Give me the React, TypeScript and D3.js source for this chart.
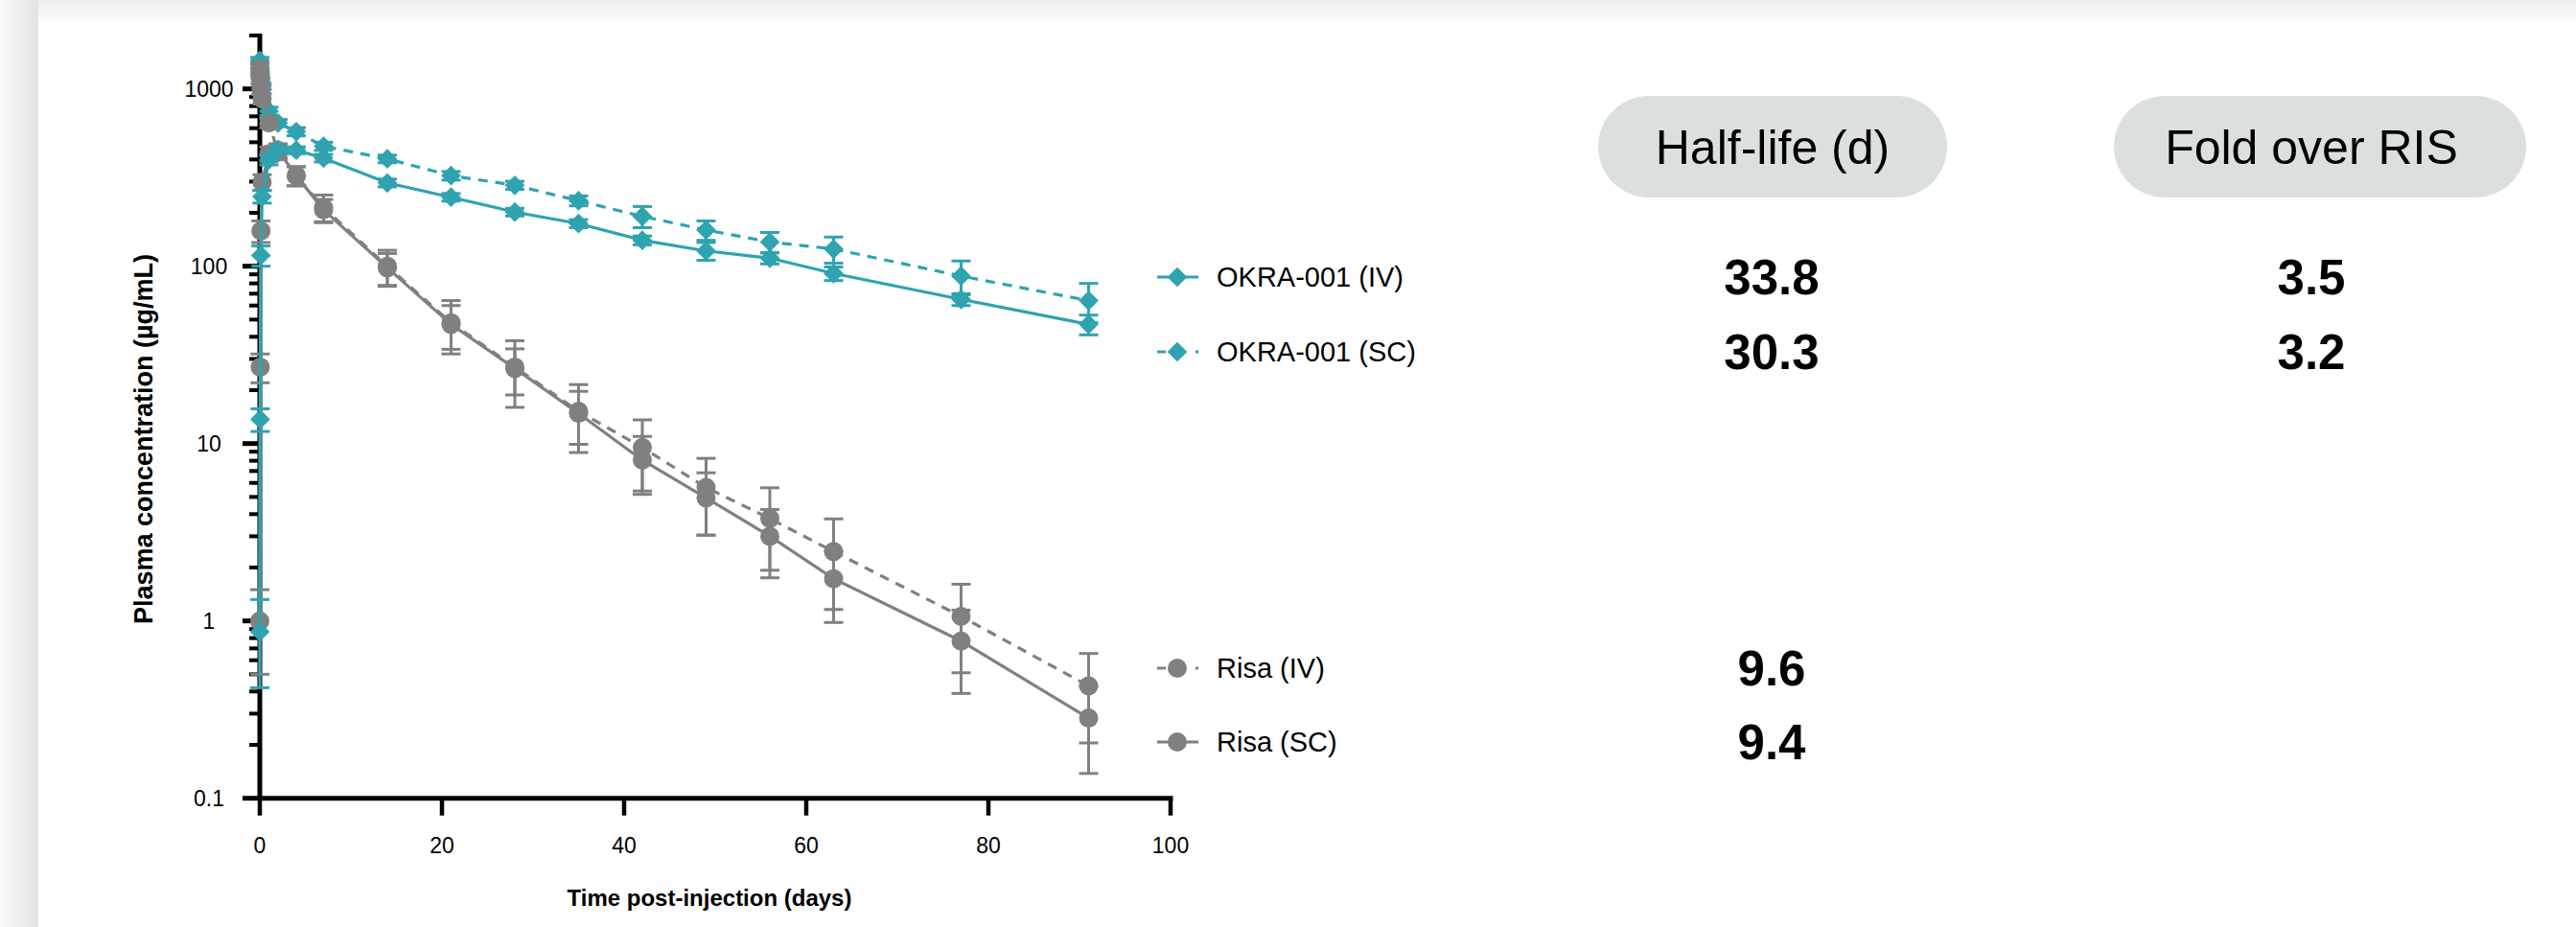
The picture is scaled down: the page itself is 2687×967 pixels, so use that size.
import { useRef, useEffect } from 'react'
import * as d3 from 'd3'

const W = 2687
const H = 967
const TEAL = '#2fa3b0'
const GRAY = '#808080'
const FONT = "'Liberation Sans', Arial, sans-serif"

// sampling days (the early points are hours after dosing)
const DAYS = [0, 0.04, 0.125, 0.25, 1, 2, 4, 7, 14, 21, 28, 35, 42, 49, 56, 63, 77, 91]

// plasma concentration, µg/mL (mean and SD)
const OKRA_IV = [0.87, 13.7, 115, 247, 398, 455, 451, 407, 295, 245, 202, 174, 140, 122, 111, 91, 65, 47]
const OKRA_IV_SD = [0.45, 2, 15, 20, 25, 20, 20, 20, 15, 12, 10, 9, 8, 14, 8, 8, 5, 6]
const OKRA_SC = [1443, 1250, 1100, 1030, 748, 642, 574, 475, 403, 324, 286, 234, 191, 160, 137, 125, 88, 64]
const OKRA_SC_SD = [60, 50, 50, 40, 40, 30, 30, 25, 20, 18, 15, 15, 26, 20, 18, 21, 19, 16]
const RISA_IV = [1300, 1150, 1000, 880, 642, 440, 324, 214, 100, 48, 27, 15.2, 9.5, 5.65, 3.78, 2.46, 1.06, 0.43]
const RISA_IV_SD = [100, 80, 70, 60, 40, 40, 40, 38, 23, 16, 11, 6.3, 4.1, 2.6, 1.85, 1.3, 0.55, 0.225]
const RISA_SC = [1.0, 27, 158, 298, 430, 450, 324, 208, 98, 47, 26.5, 14.8, 8.07, 4.94, 3.0, 1.73, 0.77, 0.283]
const RISA_SC_SD = [0.5, 5, 22, 30, 40, 40, 40, 30, 20, 13, 7.7, 4.9, 2.9, 1.9, 1.25, 0.75, 0.38, 0.145]

const X_TICKS = [0, 20, 40, 60, 80, 100]
const Y_TICKS = [0.1, 1, 10, 100, 1000]

const HALF_LIFE = ['33.8', '30.3', '9.6', '9.4']
const FOLD = ['3.5', '3.2']

type Series = { name: string; values: number[]; sd: number[]; color: string; dashed: boolean; shape: 'diamond' | 'circle' }

const SERIES: Series[] = [
  { name: 'OKRA-001 (IV)', values: OKRA_IV, sd: OKRA_IV_SD, color: TEAL, dashed: false, shape: 'diamond' },
  { name: 'OKRA-001 (SC)', values: OKRA_SC, sd: OKRA_SC_SD, color: TEAL, dashed: true, shape: 'diamond' },
  { name: 'Risa (IV)', values: RISA_IV, sd: RISA_IV_SD, color: GRAY, dashed: true, shape: 'circle' },
  { name: 'Risa (SC)', values: RISA_SC, sd: RISA_SC_SD, color: GRAY, dashed: false, shape: 'circle' },
]
// draw order: dashed teal, grays, solid teal on top
const DRAW_ORDER = [1, 2, 3, 0]
const LEGEND_Y = [289, 367, 697, 774]

function marker(shape: string) {
  return shape === 'diamond'
    ? d3.symbol(d3.symbolSquare, 215)()
    : d3.symbol(d3.symbolCircle, Math.PI * 10 * 10)()
}

export default function App() {
  const svgRef = useRef<SVGSVGElement>(null)

  useEffect(() => {
    const svg = d3.select(svgRef.current)
    svg.selectAll('*').remove()

    // page background / card edge
    const defs = svg.append('defs')
    const lg = defs.append('linearGradient').attr('id', 'leftShade').attr('x1', 0).attr('x2', 1).attr('y1', 0).attr('y2', 0)
    lg.append('stop').attr('offset', 0).attr('stop-color', '#fafafa')
    lg.append('stop').attr('offset', 1).attr('stop-color', '#e2e2e2')
    const tg = defs.append('linearGradient').attr('id', 'topShade').attr('x1', 0).attr('x2', 0).attr('y1', 0).attr('y2', 1)
    tg.append('stop').attr('offset', 0).attr('stop-color', '#ededed')
    tg.append('stop').attr('offset', 1).attr('stop-color', '#ffffff')
    svg.append('rect').attr('width', W).attr('height', H).attr('fill', '#fff')
    svg.append('rect').attr('x', 40).attr('width', W - 40).attr('height', 26).attr('fill', 'url(#topShade)')
    svg.append('rect').attr('width', 40).attr('height', H).attr('fill', 'url(#leftShade)')

    const x = d3.scaleLinear().domain([0, 100]).range([271, 1221])
    const y = d3.scaleLog().domain([0.1, 2000]).range([832.7, 37])
    const x0 = x(0)
    const yBottom = y(0.1)

    const g = svg.append('g')

    // y axis minor + major ticks
    const minors: number[] = []
    for (let e = -1; e <= 3; e++) for (let m = 2; m <= 9; m++) {
      const v = m * Math.pow(10, e)
      if (v <= 2000) minors.push(v)
    }
    minors.push(2000)
    minors.forEach((v) => {
      g.append('line').attr('x1', x0 - 11).attr('x2', x0).attr('y1', y(v)).attr('y2', y(v))
        .attr('stroke', '#000').attr('stroke-width', 4)
    })
    Y_TICKS.forEach((v) => {
      g.append('line').attr('x1', x0 - 18).attr('x2', x0).attr('y1', y(v)).attr('y2', y(v))
        .attr('stroke', '#000').attr('stroke-width', 5)
      g.append('text').attr('x', 218).attr('y', y(v)).attr('dy', '0.36em')
        .attr('text-anchor', 'middle').attr('font-family', FONT).attr('font-size', 23).attr('fill', '#000')
        .text(String(v))
    })
    g.append('line').attr('x1', x0).attr('x2', x0).attr('y1', yBottom).attr('y2', y(2000) - 2)
      .attr('stroke', '#000').attr('stroke-width', 5)

    // x axis
    g.append('line').attr('x1', x0 - 2).attr('x2', x(100) + 2.5).attr('y1', yBottom).attr('y2', yBottom)
      .attr('stroke', '#000').attr('stroke-width', 5)
    X_TICKS.forEach((t) => {
      g.append('line').attr('x1', x(t)).attr('x2', x(t)).attr('y1', yBottom).attr('y2', yBottom + 18)
        .attr('stroke', '#000').attr('stroke-width', 4.5)
      g.append('text').attr('x', x(t)).attr('y', 890)
        .attr('text-anchor', 'middle').attr('font-family', FONT).attr('font-size', 23).attr('fill', '#000')
        .text(String(t))
    })

    g.append('text').attr('x', 740).attr('y', 945).attr('text-anchor', 'middle')
      .attr('font-family', FONT).attr('font-weight', 'bold').attr('font-size', 24)
      .text('Time post-injection (days)')
    g.append('text').attr('transform', 'translate(159,458) rotate(-90)')
      .attr('text-anchor', 'middle').attr('font-family', FONT).attr('font-weight', 'bold').attr('font-size', 27)
      .text('Plasma concentration (µg/mL)')

    // series
    DRAW_ORDER.forEach((si) => {
      const s = SERIES[si]
      const sg = g.append('g')
      const line = d3.line<number>().x((d, i) => x(DAYS[i])).y((d) => y(d))
      s.values.forEach((v, i) => {
        const hi = y(v + s.sd[i])
        const lo = y(Math.max(v - s.sd[i], 0.1))
        const cx = x(DAYS[i])
        sg.append('line').attr('x1', cx).attr('x2', cx).attr('y1', hi).attr('y2', lo)
          .attr('stroke', s.color).attr('stroke-width', 3)
        ;[hi, lo].forEach((cy) => {
          sg.append('line').attr('x1', cx - 10).attr('x2', cx + 10).attr('y1', cy).attr('y2', cy)
            .attr('stroke', s.color).attr('stroke-width', 3)
        })
      })
      sg.append('path').datum(s.values).attr('d', line).attr('fill', 'none')
        .attr('stroke', s.color).attr('stroke-width', 3.2)
        .attr('stroke-dasharray', s.dashed ? '10 8' : null)
      s.values.forEach((v, i) => {
        sg.append('path').attr('d', marker(s.shape))
          .attr('transform', `translate(${x(DAYS[i])},${y(v)})${s.shape === 'diamond' ? ' rotate(45)' : ''}`)
          .attr('fill', s.color)
      })
    })

    // legend
    SERIES.forEach((s, i) => {
      const ly = LEGEND_Y[i]
      g.append('line').attr('x1', 1207).attr('x2', 1250).attr('y1', ly).attr('y2', ly)
        .attr('stroke', s.color).attr('stroke-width', 3.2)
        .attr('stroke-dasharray', s.dashed ? '9 31 3' : null)
      g.append('path').attr('d', marker(s.shape))
        .attr('transform', `translate(1228,${ly})${s.shape === 'diamond' ? ' rotate(45)' : ''}`)
        .attr('fill', s.color)
      g.append('text').attr('x', 1269).attr('y', ly).attr('dy', '0.36em')
        .attr('font-family', FONT).attr('font-size', 29).attr('fill', '#000')
        .text(s.name)
    })

    // table
    const pills = [
      { label: 'Half-life (d)', x: 1667, w: 364, cx: 1849 },
      { label: 'Fold over RIS', x: 2205, w: 430, cx: 2411 },
    ]
    pills.forEach((p) => {
      g.append('rect').attr('x', p.x).attr('y', 100).attr('width', p.w).attr('height', 106)
        .attr('rx', 53).attr('fill', '#dcdfe0')
      g.append('text').attr('x', p.cx).attr('y', 171).attr('text-anchor', 'middle')
        .attr('font-family', FONT).attr('font-size', 50).attr('fill', '#000').text(p.label)
    })
    HALF_LIFE.forEach((v, i) => {
      g.append('text').attr('x', 1848).attr('y', LEGEND_Y[i]).attr('dy', '0.36em').attr('text-anchor', 'middle')
        .attr('font-family', FONT).attr('font-weight', 'bold').attr('font-size', 51).text(v)
    })
    FOLD.forEach((v, i) => {
      g.append('text').attr('x', 2411).attr('y', LEGEND_Y[i]).attr('dy', '0.36em').attr('text-anchor', 'middle')
        .attr('font-family', FONT).attr('font-weight', 'bold').attr('font-size', 51).text(v)
    })
  }, [])

  return (
    <div style={{ width: W, height: H }}>
      <style>{'body{margin:0}'}</style>
      <svg ref={svgRef} width={W} height={H} style={{ display: 'block' }} />
    </div>
  )
}
